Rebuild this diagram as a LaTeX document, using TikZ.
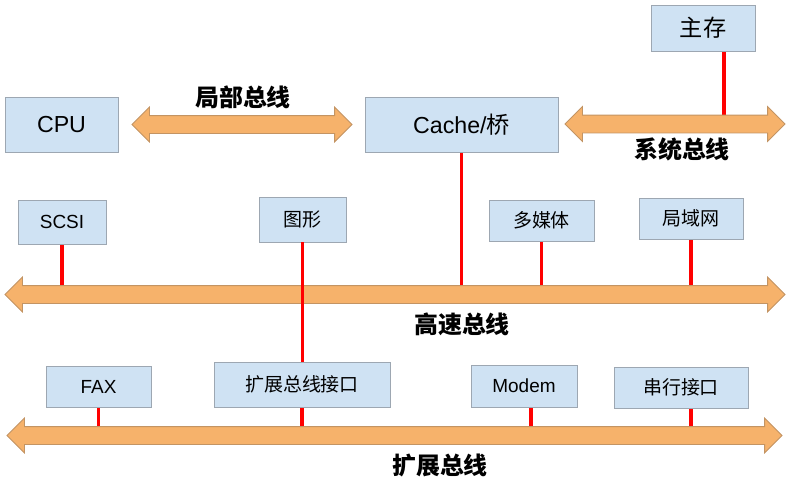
\documentclass[tikz,border=0pt]{standalone}
\usepackage{fontspec}
\setmainfont{Liberation Sans}
\newfontfamily\cjk{Noto Sans CJK SC}
\usepackage{tikz}
\usetikzlibrary{shapes.arrows, positioning, backgrounds}

\definecolor{boxblue}{HTML}{CFE2F3}
\definecolor{boxline}{HTML}{9DA7B2}
\definecolor{busfill}{HTML}{F6B26B}
\definecolor{busline}{HTML}{C39463}

\begin{document}
\begin{tikzpicture}[
        unit/.style={
            rectangle,
            draw=boxline,
            fill=boxblue,
            line width=0.6pt,
            inner sep=0pt,
            font=\fontsize{13.5}{16}\selectfont
        },
        bigunit/.style={
            unit,
            font=\fontsize{16.5}{19}\selectfont
        },
        bus/.style={
            double arrow,
            draw=busline,
            fill=busfill,
            line width=0.6pt,
            inner xsep=0pt,
            inner ysep=0.2125cm,
            minimum width=0pt,
            double arrow head extend=0.2125cm,
            double arrow tip angle=90
        },
        link/.style={red, line width=2.2pt},
        busname/.style={font=\cjk\bfseries\fontsize{17}{20}\selectfont}
    ]
        \useasboundingbox (0,0) rectangle (19.775,-12.2);

        % Top row
        \node[bigunit, minimum width=2.6cm, minimum height=1.15cm] (mem) at (17.575,-0.7) {\cjk 主存};
        \node[bigunit, minimum width=2.825cm, minimum height=1.375cm] (cpu) at (1.5375,-3.1125) {CPU};
        \node[bigunit, minimum width=4.825cm, minimum height=1.375cm] (cache) at (11.5375,-3.1125) {Cache/{\cjk 桥}};

        % Middle row
        \node[unit, minimum width=2.2cm, minimum height=1.1cm] (scsi) at (1.55,-5.55) {SCSI};
        \node[unit, minimum width=2.175cm, minimum height=1.125cm] (gfx) at (7.5625,-5.4875) {\cjk 图形};
        \node[unit, minimum width=2.625cm, minimum height=1.025cm] (media) at (13.5375,-5.5125) {\cjk 多媒体};
        \node[unit, minimum width=2.6cm, minimum height=1.025cm] (lan) at (17.275,-5.4625) {\cjk 局域网};

        % Bottom row
        \node[unit, minimum width=2.625cm, minimum height=1.025cm] (fax) at (2.4625,-9.6625) {FAX};
        \node[unit, minimum width=4.4cm, minimum height=1.125cm] (extif) at (7.55,-9.6125) {\cjk 扩展总线接口};
        \node[unit, minimum width=2.65cm, minimum height=1.05cm] (modem) at (13.1,-9.65) {Modem};
        \node[unit, minimum width=3.35cm, minimum height=1.025cm] (serial) at (17.025,-9.6875) {\cjk 串行接口};

        % Buses
        \node[bus, minimum height=5.5cm] (localbus) at (6.05,-3.1125) {};
        \node[bus, minimum height=5.5cm] (sysbus) at (16.875,-3.1) {};
        \node[bus, minimum height=19.5cm] (highbus) at (9.875,-7.3625) {};
        \node[bus, minimum height=19.375cm] (extbus) at (9.8625,-10.8875) {};

        \node[busname] (localname) at (6.075,-2.425) {局部总线};
        \node[busname] (sysname) at (17.05,-3.725) {系统总线};
        \node[busname] (highname) at (11.55,-8.1) {高速总线};
        \node[busname] (extname) at (11.0,-11.625) {扩展总线};

        % Links
        \begin{pgfonlayer}{background}
            \draw[link] ([xshift=0.525cm]mem.south) -- ([xshift=0.525cm]mem.south |- sysbus.center);
            \draw[link] (cache.south) -- (cache.south |- highbus.center);
            \draw[link] (scsi.south) -- (scsi.south |- highbus.center);
            \draw[link] (media.south) -- (media.south |- highbus.center);
            \draw[link] (lan.south) -- (lan.south |- highbus.center);
            \draw[link] (fax.south) -- (fax.south |- extbus.center);
            \draw[link] (extif.south) -- (extif.south |- extbus.center);
            \draw[link] ([xshift=0.175cm]modem.south) -- ([xshift=0.175cm]modem.south |- extbus.center);
            \draw[link] ([xshift=0.25cm]serial.south) -- ([xshift=0.25cm]serial.south |- extbus.center);
        \end{pgfonlayer}
        \draw[link] (gfx.south) -- (gfx.south |- extif.north);
    \end{tikzpicture}
\end{document}
